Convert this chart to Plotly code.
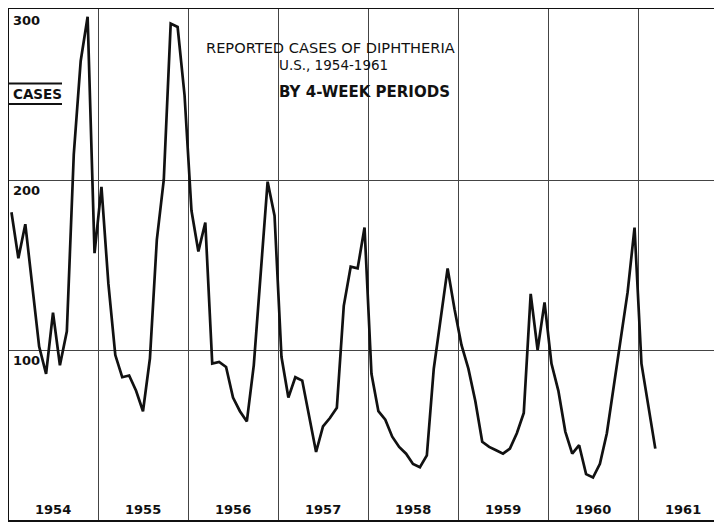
import plotly.graph_objects as go

# ---- data: reported diphtheria cases by 4-week period (13 periods / year) ----
years = [1954, 1955, 1956, 1957, 1958, 1959, 1960, 1961]
cases_1954 = [181, 154, 174, 139, 102, 86, 122, 91, 111, 215, 270, 296, 157]
cases_1955 = [196, 139, 97, 84, 85, 76, 64, 95, 165, 200, 292, 290, 250]
cases_1956 = [182, 158, 175, 92, 93, 90, 72, 64, 58, 91, 147, 199, 179]
cases_1957 = [96, 72, 84, 82, 62, 40, 55, 60, 66, 126, 149, 148, 172]
cases_1958 = [86, 64, 59, 49, 43, 39, 33, 31, 38, 89, 118, 148, 124]
cases_1959 = [103, 89, 70, 46, 43, 41, 39, 42, 51, 63, 133, 100, 128]
cases_1960 = [92, 76, 52, 39, 44, 27, 25, 33, 51, 79, 109, 134, 172]
cases_1961 = [92, 67, 42]
series = [cases_1954, cases_1955, cases_1956, cases_1957,
          cases_1958, cases_1959, cases_1960, cases_1961]
periods_per_year = 13
y_ticks = [100, 200, 300]
y_tick_labels = ["100", "200", "300"]
year_labels = ["1954", "1955", "1956", "1957", "1958", "1959", "1960", "1961"]

xs, ys = [], []
for yr, vals in zip(years, series):
    for j, v in enumerate(vals):
        xs.append(yr + (j + 0.5) / periods_per_year)
        ys.append(v)

# The page body has an 8px margin, so the figure itself starts at (8, 8).
W, H = 714, 514
ML, MR, MT, MB = 1, 0, 1, 2
OFF = 8                     # page offset of the figure
PL = OFF + ML               # plot left, page px
PR = OFF + W - MR           # plot right, page px
PT = OFF + MT               # plot top, page px
PB = OFF + H - MB           # plot bottom, page px
YEAR_PX = 90.0              # page px per year, 1954 line at page x = 8
X0 = 1954 + (PL - 8) / YEAR_PX
X1 = 1954 + (PR - 8) / YEAR_PX
Y1 = (PB - PT) / 1.7        # 100 cases = 170 px


def px(x):
    return (x - PL) / (PR - PL)


def py(y):
    return (PB - y) / (PB - PT)


FONT = "DejaVu Sans"
INK = "#111111"

fig = go.Figure()
fig.add_trace(go.Scatter(
    x=xs, y=ys, mode="lines",
    line=dict(color=INK, width=2.7),
    hoverinfo="skip", showlegend=False,
))

annotations = []
for v, lab in zip(y_ticks, y_tick_labels):
    annotations.append(dict(
        x=px(11), xref="paper", y=v, yref="y", text="<b>%s</b>" % lab,
        xanchor="left", yanchor="top", yshift=-1, showarrow=False,
        font=dict(family=FONT, size=13, color=INK),
    ))
for yr, lab in zip(years, year_labels):
    annotations.append(dict(
        x=yr + 0.5, xref="x", y=0, yref="y", text="<b>%s</b>" % lab,
        xanchor="center", yanchor="bottom", yshift=1, showarrow=False,
        font=dict(family=FONT, size=13, color=INK),
    ))
annotations.append(dict(
    x=px(11), xref="paper", y=py(94), yref="paper", text="<b>CASES</b>",
    xanchor="left", yanchor="middle", showarrow=False,
    font=dict(family=FONT, size=13.5, color=INK),
))
annotations.append(dict(
    x=px(330), xref="paper", y=py(47), yref="paper",
    text="REPORTED CASES OF DIPHTHERIA",
    xanchor="center", yanchor="middle", showarrow=False,
    font=dict(family=FONT, size=14.6, color=INK),
))
annotations.append(dict(
    x=px(333), xref="paper", y=py(65), yref="paper",
    text="U.S., 1954-1961",
    xanchor="center", yanchor="middle", showarrow=False,
    font=dict(family=FONT, size=13.5, color=INK),
))
annotations.append(dict(
    x=px(364), xref="paper", y=py(92), yref="paper",
    text="<b>BY 4-WEEK PERIODS</b>",
    xanchor="center", yanchor="middle", showarrow=False,
    font=dict(family=FONT, size=15, color=INK),
))

shapes = [
    dict(type="line", xref="paper", yref="paper", x0=px(8), x1=px(62),
         y0=py(83.5), y1=py(83.5), line=dict(color=INK, width=2)),
    dict(type="line", xref="paper", yref="paper", x0=px(8), x1=px(62),
         y0=py(104), y1=py(104), line=dict(color=INK, width=2)),
]

fig.update_layout(
    width=W, height=H,
    margin=dict(l=ML, r=MR, t=MT, b=MB, pad=0),
    paper_bgcolor="white", plot_bgcolor="white",
    showlegend=False,
    annotations=annotations, shapes=shapes,
    xaxis=dict(
        range=[X0, X1], tick0=1954, dtick=1, showgrid=True,
        gridcolor="#444444", gridwidth=1, zeroline=False,
        showticklabels=False, ticks="",
        showline=True, linecolor=INK, linewidth=2, mirror=True,
    ),
    yaxis=dict(
        range=[0, Y1], tickvals=y_ticks, showgrid=True,
        gridcolor="#444444", gridwidth=1, zeroline=False,
        showticklabels=False, ticks="",
        showline=True, linecolor=INK, linewidth=2.5, mirror=False,
    ),
)

fig.write_html("out.html")
